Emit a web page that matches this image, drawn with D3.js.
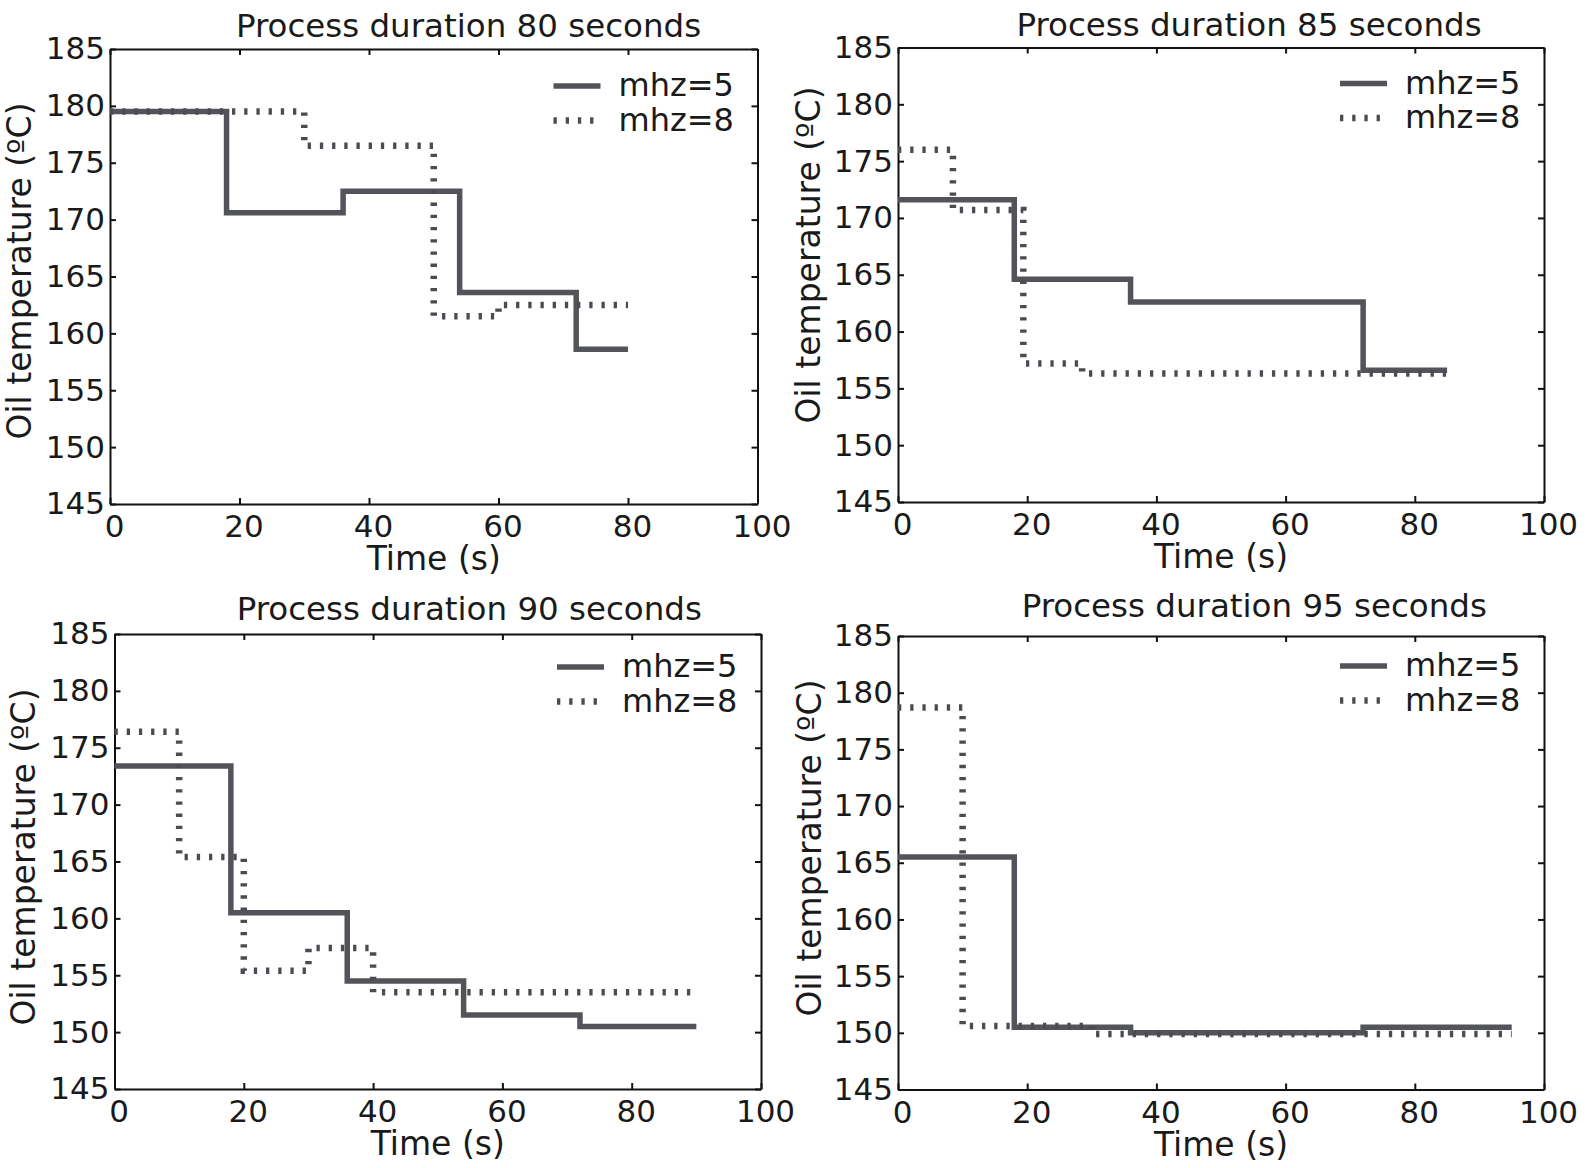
<!DOCTYPE html>
<html>
<head>
<meta charset="utf-8">
<script src="https://cdn.jsdelivr.net/npm/d3@7"></script>
<style>
  body { margin: 0; background: #fff; }
  text { font-family: "DejaVu Sans", sans-serif; fill: #1a1a1a; }
</style>
</head>
<body>
<svg id="chart"></svg>
<script>
const width = 1588, height = 1168

// data
const durations = [80, 85, 90, 95]
const seriesNames = ['mhz=5', 'mhz=8']
const xTicks = [0, 20, 40, 60, 80, 100]
const yTicks = [145, 150, 155, 160, 165, 170, 175, 180, 185]

const mhz5Times = [
    [0, 18, 36, 54, 72, 80],
    [0, 18, 36, 72, 85],
    [0, 18, 36, 54, 72, 90],
    [0, 18, 36, 72, 95]
]
const mhz5Temps = [
    [179.5, 170.6, 172.5, 163.6, 158.6, 158.6],
    [171.6, 164.6, 162.6, 156.6, 156.6],
    [173.4, 160.5, 154.5, 151.5, 150.5, 150.5],
    [165.5, 150.5, 150.0, 150.5, 150.5]
]
const mhz8Times = [
    [0, 30, 50, 60, 80],
    [0, 8.5, 19.4, 28.5, 85],
    [0, 10, 20, 30, 40, 90],
    [0, 10, 30, 95]
]
const mhz8Temps = [
    [179.5, 176.5, 161.5, 162.5, 162.5],
    [176.0, 170.7, 157.2, 156.3, 156.3],
    [176.4, 165.4, 155.4, 157.4, 153.5, 153.5],
    [178.7, 150.6, 149.9, 149.9]
]

// layout of each panel (pixels)
const panels = [
    { left: 110, right: 757.5, top: 49, bottom: 504, titleX: 468.5, titleY: 37, yLabelX: 20, yLabelY: 271, legendY: 37 },
    { left: 898, right: 1544, top: 47.5, bottom: 502, titleX: 1249, titleY: 36, yLabelX: 809, yLabelY: 255, legendY: 36 },
    { left: 114.5, right: 761, top: 634, bottom: 1089, titleX: 469.3, titleY: 620, yLabelX: 24, yLabelY: 857, legendY: 33 },
    { left: 898, right: 1544, top: 636, bottom: 1089.5, titleX: 1254.3, titleY: 617, yLabelX: 810, yLabelY: 848, legendY: 30 }
]

const lineColor = '#535459'
const styles = [
    { width: 5.5, dash: null, color: lineColor },
    { width: 6.5, dash: '3.3 8.9', color: '#4b4c51' }
]

const svg = d3.select('#chart').attr('width', width).attr('height', height)

function drawPanel(p, i) {
    const x = d3.scaleLinear().domain([0, 100]).range([p.left, p.right])
    const y = d3.scaleLinear().domain([145, 185]).range([p.bottom, p.top])
    const g = svg.append('g')

    // axes, ticks pointing inward on all four sides
    const bottomAxis = g.append('g')
        .attr('transform', `translate(0,${p.bottom})`)
        .call(d3.axisBottom(x).tickValues(xTicks).tickSizeInner(-6).tickSizeOuter(0).tickPadding(33))
    bottomAxis.selectAll('text').attr('dx', 4)
    g.append('g')
        .attr('transform', `translate(0,${p.top})`)
        .call(d3.axisTop(x).tickValues(xTicks).tickSizeInner(-6).tickSizeOuter(0).tickFormat(''))
    g.append('g')
        .attr('transform', `translate(${p.left},0)`)
        .call(d3.axisLeft(y).tickValues(yTicks).tickSizeInner(-6).tickSizeOuter(0).tickPadding(5))
    g.append('g')
        .attr('transform', `translate(${p.right},0)`)
        .call(d3.axisRight(y).tickValues(yTicks).tickSizeInner(-6).tickSizeOuter(0).tickFormat(''))

    g.selectAll('.domain').attr('stroke', '#111').attr('stroke-width', 2)
    g.selectAll('.tick line').attr('stroke', '#111').attr('stroke-width', 2)
    g.selectAll('.tick text')
        .style('font-family', '"DejaVu Sans", sans-serif')
        .style('font-size', '31px')
        .attr('fill', '#1a1a1a')
    bottomAxis.selectAll('.tick text').attr('dy', 0)

    // step lines
    const line = d3.line()
        .x(d => x(d[0]))
        .y(d => y(d[1]))
        .curve(d3.curveStepAfter)

    const series = [
        d3.zip(mhz5Times[i], mhz5Temps[i]),
        d3.zip(mhz8Times[i], mhz8Temps[i])
    ]
    series.forEach((pts, k) => {
        const path = g.append('path')
            .attr('d', line(pts))
            .attr('fill', 'none')
            .attr('stroke', styles[k].color)
            .attr('stroke-width', styles[k].width)
        if (styles[k].dash) path.attr('stroke-dasharray', styles[k].dash)
    })

    // legend
    seriesNames.forEach((name, k) => {
        const ly = p.top + p.legendY + k * 34.5
        const ll = g.append('line')
            .attr('x1', p.right - 204).attr('x2', p.right - 157)
            .attr('y1', ly).attr('y2', ly)
            .attr('stroke', styles[k].color)
            .attr('stroke-width', styles[k].width)
        if (styles[k].dash) ll.attr('stroke-dasharray', styles[k].dash)
        g.append('text')
            .attr('x', p.right - 139)
            .attr('y', ly + 10)
            .style('font-size', '32px')
            .text(name)
    })

    // labels
    g.append('text')
        .attr('x', p.titleX)
        .attr('y', p.titleY)
        .attr('text-anchor', 'middle')
        .style('font-size', '32.5px')
        .text(`Process duration ${durations[i]} seconds`)

    g.append('text')
        .attr('x', (p.left + p.right) / 2)
        .attr('y', p.bottom + 66)
        .attr('text-anchor', 'middle')
        .style('font-size', '33px')
        .text('Time (s)')

    g.append('text')
        .attr('transform', `translate(${p.yLabelX + 11},${p.yLabelY}) rotate(-90)`)
        .attr('text-anchor', 'middle')
        .style('font-size', '33px')
        .text('Oil temperature (ºC)')
}

panels.forEach(drawPanel)
</script>
</body>
</html>
